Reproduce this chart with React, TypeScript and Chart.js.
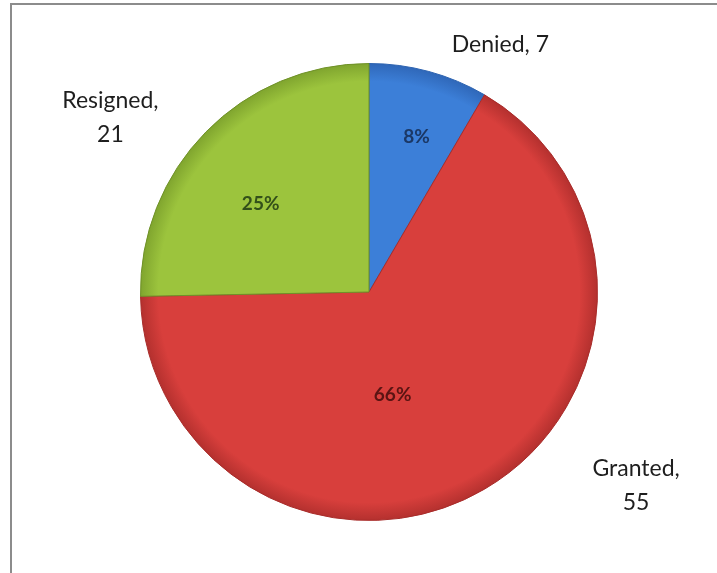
import React, { useEffect, useRef } from "react";
import { Chart, registerables } from "chart.js";

Chart.register(...registerables);

const categories = ["Denied", "Granted", "Resigned"];
const values = [7, 55, 21];
const sliceColors = ["#3c7fd8", "#d83f3c", "#9cc43d"];
const sliceEdges = ["#2f67b8", "#b3302e", "#7fa42e"];
const sliceBorders = ["#2d63b0", "#a82c2a", "#6f9128"];
const percentColors = ["#1b3866", "#5a1413", "#33501a"];
// polar placement of labels: angle (deg clockwise from top), distance as fraction of radius
const innerLabelAngles = [17, 167, 309];
const innerLabelDist = [0.71, 0.46, 0.61];
const outerLabelAngles = [28, 126, 304];
const outerLabelDist = [1.225, 1.445, 1.365];
const outerLabelLines = [["Denied, 7"], ["Granted,", "55"], ["Resigned,", "21"]];

const FONT = "Lato, 'Open Sans', sans-serif";

const labelPlugin = {
  id: "pieLabels",
  afterDatasetsDraw(chart: any) {
    const ctx = chart.ctx;
    const meta = chart.getDatasetMeta(0);
    const data = chart.data.datasets[0].data as number[];
    const total = data.reduce((a, b) => a + b, 0);
    ctx.save();
    ctx.textAlign = "center";
    ctx.textBaseline = "middle";
    meta.data.forEach((arc: any, i: number) => {
      const cx = arc.x;
      const cy = arc.y;
      const r = arc.outerRadius;
      const a1 = (innerLabelAngles[i] * Math.PI) / 180;
      const d1 = innerLabelDist[i] * r;
      ctx.font = "bold 19px " + FONT;
      ctx.fillStyle = percentColors[i];
      ctx.fillText(
        Math.round((data[i] / total) * 100) + "%",
        cx + Math.sin(a1) * d1,
        cy - Math.cos(a1) * d1
      );
      const a2 = (outerLabelAngles[i] * Math.PI) / 180;
      const d2 = outerLabelDist[i] * r;
      const lx = cx + Math.sin(a2) * d2;
      const ly = cy - Math.cos(a2) * d2;
      const lines = outerLabelLines[i];
      const lh = 34;
      ctx.font = "23px " + FONT;
      ctx.fillStyle = "#1e1e1e";
      lines.forEach((t, k) => {
        ctx.fillText(t, lx, ly + (k - (lines.length - 1) / 2) * lh);
      });
    });
    ctx.restore();
  },
};

function sliceFill(c: any) {
  const i = c.dataIndex;
  const chart = c.chart;
  const area = chart.chartArea;
  if (!area) return sliceColors[i];
  const cx = (area.left + area.right) / 2;
  const cy = (area.top + area.bottom) / 2;
  const r = Math.min(area.right - area.left, area.bottom - area.top) / 2;
  const g = chart.ctx.createRadialGradient(cx, cy, 0, cx, cy, r);
  g.addColorStop(0, sliceColors[i]);
  g.addColorStop(0.92, sliceColors[i]);
  g.addColorStop(1, sliceEdges[i]);
  return g;
}

export default function App() {
  const ref = useRef<HTMLCanvasElement | null>(null);
  useEffect(() => {
    if (!ref.current) return;
    const chart = new Chart(ref.current, {
      type: "pie",
      data: {
        labels: categories,
        datasets: [
          {
            data: values,
            backgroundColor: sliceFill as any,
            borderColor: sliceBorders,
            borderWidth: 1,
          },
        ],
      },
      options: {
        responsive: false,
        animation: false,
        layout: { padding: { left: 140, right: 119, top: 63, bottom: 52 } },
        plugins: {
          legend: { display: false },
          tooltip: { enabled: false },
          title: { display: false },
        },
      },
      plugins: [labelPlugin],
    });
    return () => chart.destroy();
  }, []);
  return (
    <div style={{ position: "absolute", left: 0, top: 0, width: 717, height: 573, background: "#fff", overflow: "hidden" }}>
      <div
        style={{
          position: "absolute",
          left: 10,
          top: 3,
          width: 705,
          height: 572,
          borderLeft: "2px solid #8c8c8c",
          borderTop: "2px solid #8c8c8c",
          borderRight: "1px solid #e0e0e0",
        }}
      />
      <canvas ref={ref} width={717} height={573} style={{ position: "absolute", left: 0, top: 0 }} />
    </div>
  );
}
